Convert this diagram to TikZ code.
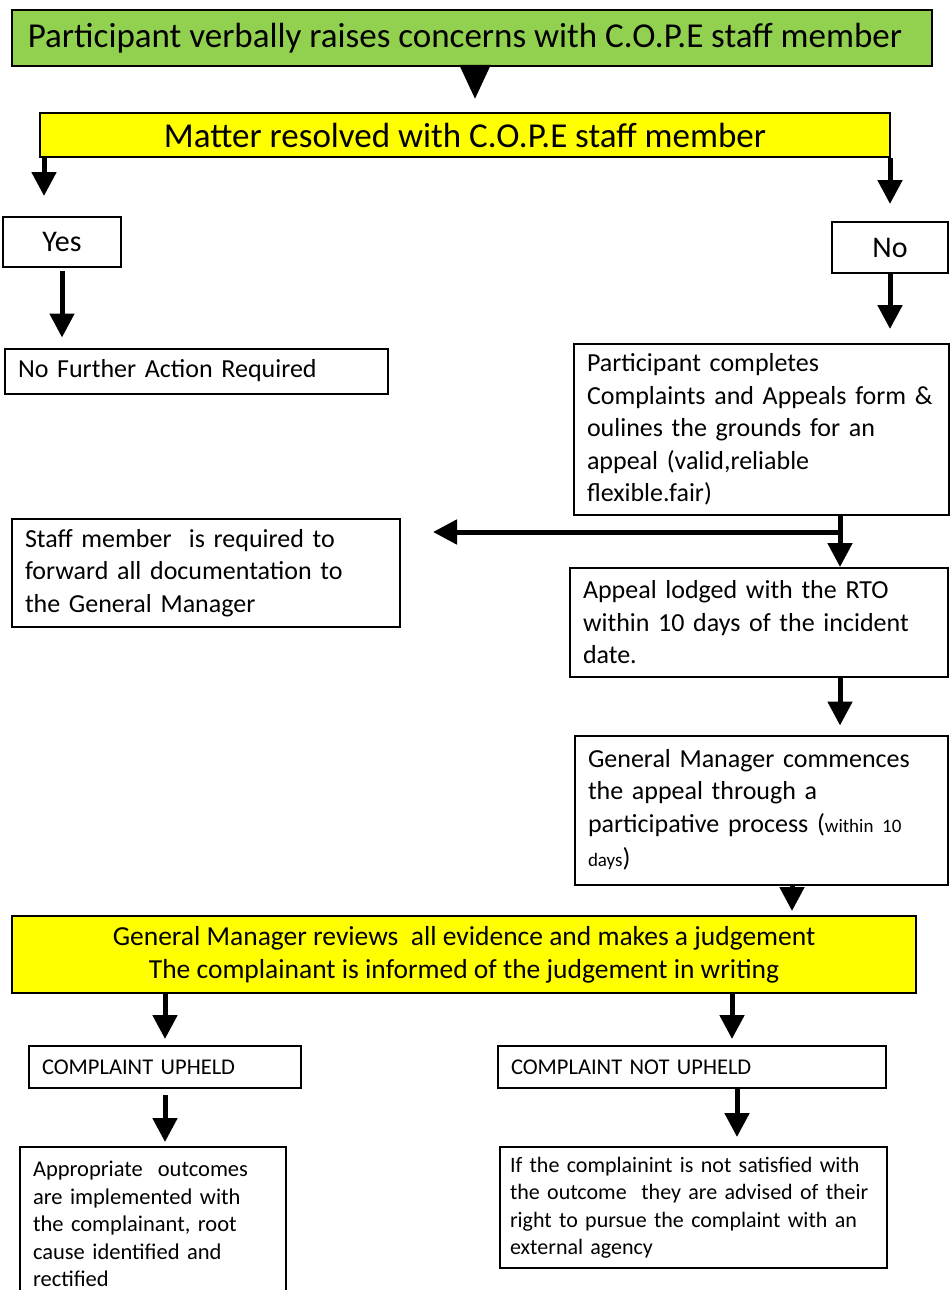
\documentclass[tikz,border=0pt]{standalone}
\usepackage{fontspec}
\setmainfont{Carlito}
\usetikzlibrary{arrows.meta, calc}
\definecolor{stepgreen}{RGB}{146,208,80}
\definecolor{stepyellow}{RGB}{255,255,0}
\tikzset{
  every node/.style={font=\fontsize{26}{32.5}\selectfont, text=black},
  box/.style={draw=black, line width=2pt, inner xsep=13pt, inner ysep=2pt, align=left},
  greenbox/.style={box, fill=stepgreen, align=center, font=\fontsize{35}{38}\selectfont},
  yellowbox/.style={box, fill=stepyellow, align=center, font=\fontsize{27.5}{33}\selectfont},
  answerbox/.style={box, align=center, font=\fontsize{30}{34}\selectfont},
  smallbox/.style={box, font=\fontsize{22.5}{27.5}\selectfont},
  arr/.style={draw=black, line width=5pt, -{Triangle[width=24pt, length=24pt]}},
  bigarr/.style={draw=black, line width=5pt, -{Triangle[width=30pt, length=34pt]}},
}

\begin{document}
\begin{tikzpicture}[x=1pt, y=-1pt]
  \useasboundingbox (0,0) rectangle (950,1290);

  % ---- top: concern raised and first outcome ------------------------------
  \node[greenbox, minimum width=920, minimum height=56] (raise) at (472,38)
    {Participant verbally raises concerns with C.O.P.E staff member\hspace*{14pt}};
  \node[greenbox, fill=stepyellow, minimum width=850, minimum height=44] (matter) at (465,135)
    {Matter resolved with C.O.P.E staff member};
  \node[answerbox, minimum width=118, minimum height=50] (yes) at (62,242) {Yes};
  \node[answerbox, minimum width=116, minimum height=51] (no) at (890,247.5) {No};

  % ---- left branch ---------------------------------------------------------
  \node[box, minimum width=383, minimum height=45, text width=357] (nfa) at (196.5,371)
    {No Further Action Required};
  \node[box, minimum width=388, minimum height=108, text width=362] (staff) at (206,573)
    {Staff member\ \ is required to\\forward all documentation to\\the General Manager};

  % ---- right branch --------------------------------------------------------
  \node[box, minimum width=373, minimum height=171, text width=349] (form) at (761.5,429.5)
    {Participant completes\\Complaints and Appeals form \&\\oulines the grounds for an\\appeal (valid,reliable\\flexible.fair)};
  \node[box, minimum width=378, minimum height=109, text width=352] (lodge) at (759,622.5)
    {Appeal lodged with the RTO\\within 10 days of the incident\\date.};
  \node[box, minimum width=373, minimum height=149, text width=347] (commence) at (761.5,810)
    {General Manager commences\\the appeal through a\\participative process ({\fontsize{19}{22}\selectfont within 10}\\[2pt]{\fontsize{19}{22}\selectfont days})};

  % ---- judgement and its outcomes ------------------------------------------
  \node[yellowbox, minimum width=904, minimum height=77] (review) at (464,954.5)
    {General Manager reviews\ \ all evidence and makes a judgement\\The complainant is informed of the judgement in writing};
  \node[smallbox, minimum width=272, minimum height=42, text width=246] (upheld) at (165,1067)
    {COMPLAINT UPHELD};
  \node[smallbox, minimum width=388, minimum height=42, text width=362] (notupheld) at (692,1067)
    {COMPLAINT NOT UPHELD};
  \node[smallbox, minimum width=266, minimum height=154, text width=240] (outcome) at (153,1224)
    {Appropriate\ \ outcomes\\are implemented with\\the complainant, root\\cause identified and\\rectified};
  \node[smallbox, font=\fontsize{22}{27.5}\selectfont, inner xsep=10pt, minimum width=387, minimum height=121, text width=367] (advise) at (693.5,1207.5)
    {If the complainint is not satisfied with\\the outcome\ \ they are advised of their\\right to pursue the complaint with an\\external agency};

  % ---- connectors ----------------------------------------------------------
  \coordinate (split) at (840,532);
  \draw[bigarr, shorten >=13pt] (raise.south -| 475,0) -- (matter.north -| 475,0);
  \draw[arr, shorten >=20pt] ([xshift=5pt]matter.south west) -- ([xshift=5pt]matter.south west |- yes.north);
  \draw[arr, shorten >=17pt] (matter.south east -| no.north) -- (no.north);
  \draw[arr, shorten <=3pt, shorten >=10pt] (yes.south) -- (yes.south |- nfa.north);
  \draw[arr, shorten >=14pt] (no.south) -- (no.south |- form.north);
  \draw[arr] (form.south -| split) -- (lodge.north -| split);
  \draw[arr, shorten >=32pt] (split) -- (staff.east |- split);
  \draw[arr, shorten >=9pt] (lodge.south -| split) -- (commence.north -| split);
  \draw[arr, shorten >=4pt] (commence.south -| 792,0) -- (review.north -| 792,0);
  \draw[arr, shorten >=6pt] (review.south -| upheld.north) -- (upheld.north);
  \draw[arr, shorten >=6pt] (review.south -| 732,0) -- (notupheld.north -| 732,0);
  \draw[arr, shorten <=6pt, shorten >=4pt] (upheld.south) -- (upheld.south |- outcome.north);
  \draw[arr, shorten >=9pt] (notupheld.south -| 737,0) -- (advise.north -| 737,0);
\end{tikzpicture}
\end{document}
